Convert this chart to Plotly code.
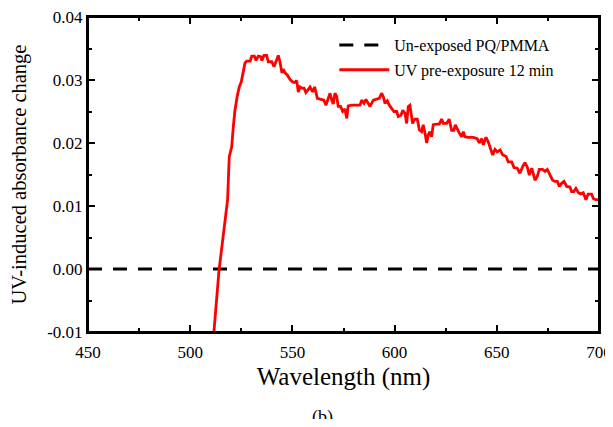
import plotly.graph_objects as go

wavelength_nm = [510.6, 511.6, 514.1, 517.0, 518.3, 519.1, 520.3, 521.1, 521.9, 523.0, 524.0, 525.0, 525.7,
                 526.8, 527.6, 529.3, 530.1, 531.4, 532.2, 533.3, 534.5, 535.1, 536.1, 537.4, 538.2,
                 539.9, 541.0, 542.0, 543.1, 543.9, 544.9, 545.5, 546.5, 547.5, 548.8, 550.1, 551.1,
                 552.1, 552.9, 553.7, 554.7, 555.7, 556.6, 557.8, 558.6, 559.9, 560.9, 562.2, 564.3,
                 565.4, 566.4, 567.6, 568.4, 569.2, 570.0, 570.8, 571.7, 572.4, 573.6, 574.6, 575.7,
                 576.6, 577.3, 579.0, 581.4, 583.1, 583.9, 585.0, 586.0, 587.1, 588.0, 589.6, 591.2,
                 592.5, 593.7, 594.5, 595.3, 596.4, 597.4, 598.6, 599.7, 601.0, 601.8, 603.1, 604.0,
                 605.1, 605.9, 606.7, 607.5, 608.8, 609.9, 611.1, 612.1, 613.2, 614.0, 614.9, 615.7,
                 616.5, 617.3, 618.1, 618.9, 620.6, 621.9, 623.0, 623.8, 625.5, 626.7, 627.9, 629.0,
                 629.7, 630.7, 631.6, 632.8, 633.6, 634.4, 636.0, 638.5, 640.4, 641.4, 642.6, 643.4,
                 644.7, 645.8, 647.0, 648.0, 649.1, 650.2, 651.6, 652.9, 654.5, 655.6, 657.3, 658.4,
                 660.0, 661.3, 662.6, 663.8, 664.9, 665.9, 667.1, 667.8, 668.7, 669.8, 670.8, 672.4,
                 673.6, 674.7, 676.0, 677.3, 678.5, 679.6, 680.6, 681.7, 682.9, 684.2, 685.8, 686.6,
                 687.7, 688.7, 689.9, 691.0, 692.3, 693.6, 694.7, 696.4, 697.2, 698.5, 699.6, 700.0]

uv_12min = [-0.0125, -0.0100, -0.0002, 0.0078, 0.0110, 0.0178, 0.0194, 0.0226, 0.0252, 0.0274, 0.0289, 0.0297, 0.0311,
            0.0327, 0.0330, 0.0330, 0.0338, 0.0338, 0.0331, 0.0338, 0.0337, 0.0331, 0.0339, 0.0339, 0.0329,
            0.0329, 0.0321, 0.0331, 0.0339, 0.0329, 0.0311, 0.0317, 0.0311, 0.0308, 0.0301, 0.0297, 0.0296,
            0.0299, 0.0281, 0.0289, 0.0287, 0.0287, 0.0280, 0.0285, 0.0289, 0.0281, 0.0289, 0.0271, 0.0269,
            0.0268, 0.0260, 0.0274, 0.0279, 0.0269, 0.0262, 0.0279, 0.0274, 0.0258, 0.0258, 0.0250, 0.0254,
            0.0239, 0.0259, 0.0260, 0.0260, 0.0260, 0.0268, 0.0263, 0.0269, 0.0264, 0.0258, 0.0268, 0.0269,
            0.0271, 0.0279, 0.0273, 0.0263, 0.0267, 0.0260, 0.0254, 0.0250, 0.0250, 0.0242, 0.0244, 0.0252,
            0.0247, 0.0231, 0.0258, 0.0260, 0.0231, 0.0238, 0.0238, 0.0221, 0.0218, 0.0229, 0.0215, 0.0200,
            0.0213, 0.0218, 0.0210, 0.0229, 0.0230, 0.0230, 0.0238, 0.0231, 0.0231, 0.0238, 0.0220, 0.0220,
            0.0229, 0.0221, 0.0216, 0.0210, 0.0218, 0.0210, 0.0209, 0.0209, 0.0207, 0.0200, 0.0207, 0.0197,
            0.0209, 0.0202, 0.0192, 0.0181, 0.0190, 0.0186, 0.0189, 0.0181, 0.0179, 0.0170, 0.0170, 0.0161,
            0.0160, 0.0152, 0.0162, 0.0169, 0.0162, 0.0149, 0.0160, 0.0153, 0.0141, 0.0147, 0.0158, 0.0158,
            0.0155, 0.0158, 0.0149, 0.0141, 0.0139, 0.0139, 0.0131, 0.0136, 0.0139, 0.0131, 0.0130, 0.0123,
            0.0123, 0.0128, 0.0121, 0.0119, 0.0121, 0.0110, 0.0119, 0.0119, 0.0112, 0.0110, 0.0110, 0.0110]

unexposed_x = [450, 700]
unexposed_y = [0.0, 0.0]

x_range = [450, 700]
x_major_step = 50
x_minor_step = 25
y_range = [-0.01, 0.04]
y_major_step = 0.01
y_minor_step = 0.005
y_label_alias = {"\u22120.01": "-0.01"}

FONT = "Times New Roman, Liberation Serif, serif"

fig = go.Figure()
fig.add_trace(go.Scatter(x=unexposed_x, y=unexposed_y, mode="lines",
                         name="Un-exposed PQ/PMMA", legendgroup="a",
                         line=dict(color="black", width=3, dash="14px,11px")))
fig.add_trace(go.Scatter(x=wavelength_nm, y=uv_12min, mode="lines",
                         name="UV pre-exposure 12 min", legendgroup="b",
                         line=dict(color="#ff0000", width=2.8)))

axis_common = dict(showline=True, linecolor="black", linewidth=2, mirror="ticks",
                   ticks="inside", ticklen=7, tickcolor="black", tickwidth=1.5,
                   showgrid=True, gridcolor="rgba(0,0,0,0)",
                   zeroline=True, zerolinecolor="rgba(0,0,0,0)",
                   automargin=False, ticklabeloverflow="allow",
                   tickfont=dict(family=FONT, size=17, color="black"))

fig.update_xaxes(range=x_range, tickmode="linear", tick0=0, dtick=x_major_step,
                 ticklabelstandoff=4,
                 title=dict(text="Wavelength (nm)", font=dict(family=FONT, size=25, color="black"), standoff=6),
                 minor=dict(ticks="inside", ticklen=4, tickcolor="black", dtick=x_minor_step),
                 **axis_common)
fig.update_yaxes(range=y_range, tickmode="linear", tick0=0, dtick=y_major_step,
                 tickformat=".2f", labelalias=y_label_alias,
                 title=dict(text="UV-induced absorbance change", font=dict(family=FONT, size=20.5, color="black"), standoff=17),
                 minor=dict(ticks="inside", ticklen=4, tickcolor="black", dtick=y_minor_step),
                 **axis_common)

# frame around the plotting area (paper coordinates = the axes box)
fig.add_shape(type="rect", xref="paper", yref="paper", x0=0, x1=1, y0=0, y1=1,
              line=dict(color="black", width=2), fillcolor="rgba(0,0,0,0)", layer="above")

fig.add_annotation(text="(b)", xref="paper", yref="paper", x=0.459, y=-0.27,
                   xanchor="center", yanchor="middle",
                   showarrow=False, font=dict(family=FONT, size=18, color="black"))

# page body adds an 8px margin on every side; size the figure so the page fits the window exactly
fig.update_layout(
    width=597, height=411,
    margin=dict(l=80, r=6, t=9, b=87),
    paper_bgcolor="white", plot_bgcolor="white",
    legend=dict(x=0.482, y=0.965, xanchor="left", yanchor="top", bgcolor="rgba(0,0,0,0)",
                font=dict(family=FONT, size=16, color="black"), tracegroupgap=1, itemwidth=50),
    showlegend=True,
)

fig.write_html("out.html")
